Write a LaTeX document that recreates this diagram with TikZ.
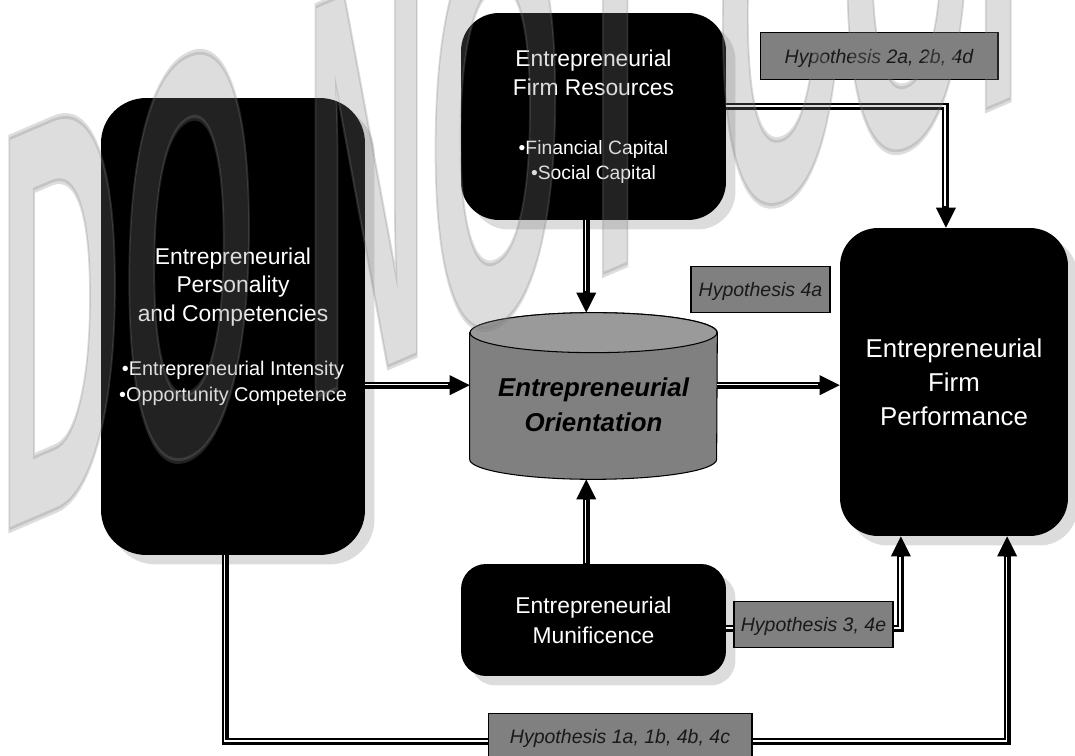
\documentclass[tikz,border=0pt]{standalone}
\usepackage{fontspec}
\setmainfont{Liberation Sans}
\newfontfamily\wmfont{Liberation Sans Bold}[FakeBold=1]
\usetikzlibrary{arrows.meta,shadows}
\definecolor{labelgray}{HTML}{808080}
\definecolor{cyltop}{HTML}{9A9A9A}
\definecolor{shadowgray}{HTML}{DCDCDC}

\begin{document}
\begin{tikzpicture}[x=0.02cm, y=-0.02cm,
  box/.style={rectangle, fill=black, text=white, align=center, inner sep=0pt,
    font=\fontsize{13}{16.4}\selectfont,
    drop shadow={shadow xshift=0.19cm, shadow yshift=-0.19cm, fill=shadowgray, opacity=1}},
  hyp/.style={rectangle, draw=black, line width=0.6pt, fill=labelgray, text=black!90,
    font=\fontsize{11.1}{13}\selectfont\itshape, minimum height=0.93cm, inner sep=0pt, text depth=0pt},
  link/.style={draw=black, line width=0.14cm, -{Triangle[length=0.4cm, width=0.4cm, line width=0pt]},
    postaction={draw=white, line width=0.034cm, -, shorten >=0.42cm,
      transform canvas={shift={(-0.013cm,0.013cm)}}}},
  wm/.style={anchor=base west, inner sep=0pt, text=gray, opacity=0.27,
    font=\wmfont\fontsize{100}{100}\selectfont, yslant=0.43, xscale=0.981, yscale=3.25}]

\useasboundingbox (0,0) rectangle (1075,756);

% boxes
\node[box, minimum width=5.28cm, minimum height=9.14cm, rounded corners=0.9cm] (pers) at (233,326.5)
  {Entrepreneurial\\Personality\\and Competencies\\[14.2pt]
   {\fontsize{11.3}{13}\selectfont •Entrepreneurial Intensity}\\[-1.7pt]
   {\fontsize{11.3}{13}\selectfont •Opportunity Competence}};
\node[box, minimum width=5.3cm, minimum height=4.14cm, rounded corners=0.76cm] (res) at (593.5,116.5)
  {Entrepreneurial\\Firm Resources\\[17.1pt]
   {\fontsize{11}{13}\selectfont •Financial Capital}\\[-2.2pt]
   {\fontsize{11}{13}\selectfont •Social Capital}};
\node[box, minimum width=5.3cm, minimum height=2.24cm, rounded corners=0.5cm,
  font=\fontsize{13}{17}\selectfont] (mun) at (593.5,620) {Entrepreneurial\\Munificence};
\node[box, minimum width=4.56cm, minimum height=6.16cm, rounded corners=0.76cm,
  font=\fontsize{14.7}{19.3}\selectfont] (perf) at (954,382) {Entrepreneurial\\Firm\\Performance};

% cylinder
\node[minimum width=4.94cm, minimum height=3.32cm, inner sep=0pt] (eo) at (593.5,396) {};
\draw[fill=labelgray, line width=0.6pt] ([yshift=-0.4cm]eo.north west) -- ([yshift=0.4cm]eo.south west)
  arc[start angle=180, end angle=360, x radius=2.47cm, y radius=0.4cm]
  -- ([yshift=-0.4cm]eo.north east)
  arc[start angle=0, end angle=180, x radius=2.47cm, y radius=0.4cm] -- cycle;
\draw[fill=cyltop, line width=0.6pt] ([yshift=-0.4cm]eo.north) ellipse[x radius=2.47cm, y radius=0.4cm];
\node[font=\fontsize{14.7}{19.8}\selectfont\bfseries\itshape, align=center, inner sep=0pt]
  (eotext) at (593.5,405) {Entrepreneurial\\Orientation};

% connectors
\draw[link] ([yshift=0.19cm]res.east) -| (perf.93);
\draw[link] (eo.95 |- res.south) -- (eo.95);
\draw[link] (pers.east |- eo.175) -- (eo.175);
\draw[link] (eo.5) -- (perf.west |- eo.5);
\draw[link] (eo.265 |- mun.north) -- (eo.265);
\draw[link] ([yshift=-0.17cm]mun.east) -| (perf.-109);
\draw[link] (pers.268) -- ++(0,186) -| (perf.-71);

% labels
\node[hyp, minimum width=4.76cm] (h2) at (879,56) {Hypothesis 2a, 2b, 4d};
\node[hyp, minimum width=2.78cm] (h4) at (760.5,289.5) {Hypothesis 4a};
\node[hyp, minimum width=3.18cm] (h3) at (813.5,624.5) {Hypothesis 3, 4e};
\node[hyp, minimum width=5.28cm] (h1) at (620,736.5) {Hypothesis 1a, 1b, 4b, 4c};

% watermark
\node[wm] (mark) at (-2.6,535.4) {DO NOT COPY};

\end{tikzpicture}
\end{document}
